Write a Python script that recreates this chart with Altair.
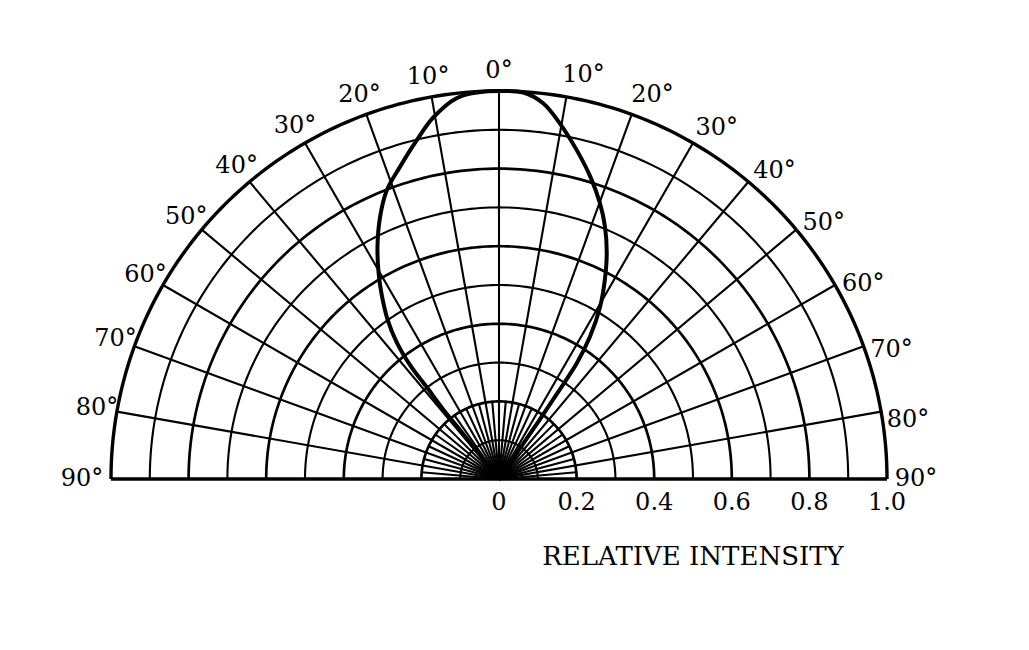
import altair as alt
import pandas as pd

# ---- grid definition (polar) ----
ring_radii = [0.1, 0.2, 0.3, 0.4, 0.5, 0.6, 0.7, 0.8, 0.9, 1.0]
spoke_angles = [-90, -80, -70, -60, -50, -40, -30, -20, -10, 0, 10, 20, 30, 40, 50, 60, 70, 80, 90]
short_spoke_angles = [-85, -75, -65, -55, -45, -35, -25, -15, -5, 5, 15, 25, 35, 45, 55, 65, 75, 85]
short_spoke_length = 0.2
angle_label_values = [-90, -80, -70, -60, -50, -40, -30, -20, -10, 0, 10, 20, 30, 40, 50, 60, 70, 80, 90]
tick_values = [0, 0.2, 0.4, 0.6, 0.8, 1.0]
tick_labels = ["0", "0.2", "0.4", "0.6", "0.8", "1.0"]
axis_title = "RELATIVE INTENSITY"

# ---- radiation pattern (angle in degrees, negative = left; relative intensity) ----
curve_angle = [-38.5, -38.5, -38.5, -38.7, -38.2, -38.0, -36.8, -35.0, -32.4, -30.3,
               -27.6, -24.4, -21.2, -17.6, -13.6, -10.3, -6.3, -3.0, 0.0, 3.6,
               6.7, 9.7, 13.3, 16.8, 20.1, 22.8, 25.5, 28.0, 30.4, 32.6,
               33.9, 34.2, 34.4, 34.4, 34.4]
curve_intensity = [0.0, 0.09, 0.16, 0.23, 0.30, 0.37, 0.44, 0.50, 0.565, 0.615,
                   0.676, 0.742, 0.799, 0.844, 0.899, 0.947, 0.988, 0.998, 1.0, 0.998,
                   0.975, 0.93, 0.871, 0.814, 0.757, 0.705, 0.645, 0.581, 0.515, 0.435,
                   0.36, 0.27, 0.185, 0.11, 0.0]

FONT = "DejaVu Serif"

xs = alt.Scale(domain=[-1.28608, 1.36598], nice=False, zero=False)
ys = alt.Scale(domain=[-0.44072, 1.23454], nice=False, zero=False)

# rings
ring_rows = [(r, a) for r in ring_radii for a in range(-90, 91, 1)]
rings_df = pd.DataFrame(ring_rows, columns=["r", "a"])
rings = (
    alt.Chart(rings_df)
    .transform_calculate(
        x="datum.r * sin(datum.a * PI / 180)",
        y="datum.r * cos(datum.a * PI / 180)",
        sw="datum.r >= 0.999 ? 3.4 : (round(datum.r * 10) % 2 == 0 ? 2.7 : 2.1)",
    )
    .mark_line(color="black")
    .encode(
        x=alt.X("x:Q", scale=xs, axis=None),
        y=alt.Y("y:Q", scale=ys, axis=None),
        detail="r:N",
        order="a:Q",
        strokeWidth=alt.StrokeWidth("sw:Q", scale=None),
    )
)

# spokes
spokes_df = pd.DataFrame({
    "a": spoke_angles + short_spoke_angles,
    "len": [1.0] * len(spoke_angles) + [short_spoke_length] * len(short_spoke_angles),
})
spokes = (
    alt.Chart(spokes_df)
    .transform_calculate(
        x0="0",
        y0="0",
        x1="datum.len * sin(datum.a * PI / 180)",
        y1="datum.len * cos(datum.a * PI / 180)",
        sw="abs(datum.a) == 90 ? 3.4 : 2.1",
    )
    .mark_rule(color="black")
    .encode(
        x=alt.X("x0:Q", scale=xs, axis=None),
        y=alt.Y("y0:Q", scale=ys, axis=None),
        x2="x1:Q",
        y2="y1:Q",
        strokeWidth=alt.StrokeWidth("sw:Q", scale=None),
    )
)

# pattern curve
curve_df = pd.DataFrame({"i": list(range(len(curve_angle))), "a": curve_angle, "r": curve_intensity})
curve = (
    alt.Chart(curve_df)
    .transform_calculate(
        x="datum.r * sin(datum.a * PI / 180)",
        y="datum.r * cos(datum.a * PI / 180)",
    )
    .mark_line(color="black", strokeWidth=4, interpolate="catmull-rom", strokeJoin="round")
    .encode(
        x=alt.X("x:Q", scale=xs, axis=None),
        y=alt.Y("y:Q", scale=ys, axis=None),
        order="i:Q",
    )
)

# angle labels
alab_df = pd.DataFrame({"a": angle_label_values,
                        "label": [f"{abs(a)}°" for a in angle_label_values]})
angle_labels = (
    alt.Chart(alab_df)
    .transform_calculate(
        rr="abs(datum.a) == 90 ? 1.075 : (datum.a > 0 ? 1.065 : 1.052)",
        aa="(datum.a > 0 && datum.a < 90) ? datum.a + 1.8 : datum.a",
    )
    .transform_calculate(
        x="datum.rr * sin(datum.aa * PI / 180)",
        y="datum.rr * cos(datum.aa * PI / 180)",
    )
    .mark_text(font=FONT, fontSize=24, color="black", align="center", baseline="middle")
    .encode(
        x=alt.X("x:Q", scale=xs, axis=None),
        y=alt.Y("y:Q", scale=ys, axis=None),
        text="label:N",
    )
)

# radial tick labels
tick_df = pd.DataFrame({"v": tick_values, "label": tick_labels})
ticks = (
    alt.Chart(tick_df)
    .transform_calculate(y0="0")
    .mark_text(font=FONT, fontSize=24, color="black", align="center", baseline="middle", dy=24)
    .encode(
        x=alt.X("v:Q", scale=xs, axis=None),
        y=alt.Y("y0:Q", scale=ys, axis=None),
        text="label:N",
    )
)

title_df = pd.DataFrame({"v": [0.5], "label": [axis_title]})
title = (
    alt.Chart(title_df)
    .transform_calculate(y0="0")
    .mark_text(font=FONT, fontSize=26, color="black", align="center", baseline="middle", dy=78)
    .encode(
        x=alt.X("v:Q", scale=xs, axis=None),
        y=alt.Y("y0:Q", scale=ys, axis=None),
        text="label:N",
    )
)

chart = (
    alt.layer(rings, spokes, curve, angle_labels, ticks, title)
    .properties(width=1029, height=650, autosize=alt.AutoSizeParams(type="none"), padding=0,
                background="white")
    .configure_view(stroke=None)
)

chart.save("out.html", embed_options={"renderer": "svg", "actions": False})
